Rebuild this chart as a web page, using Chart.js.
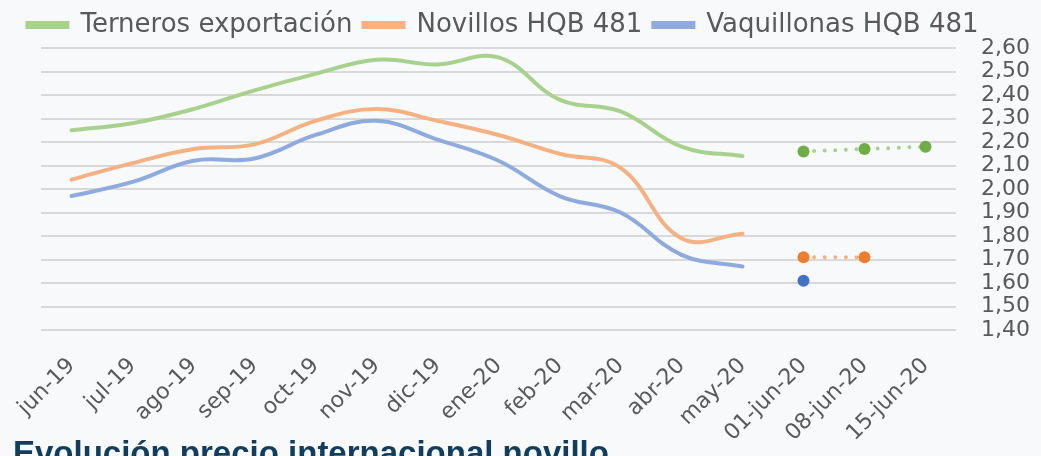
<!DOCTYPE html>
<html>
<head>
<meta charset="utf-8">
<script src="https://cdn.jsdelivr.net/npm/chart.js@4.4.0/dist/chart.umd.min.js"></script>
<style>
  html, body { margin: 0; padding: 0; background: #f8f9fb; overflow: hidden; }
  #wrap { position: relative; width: 1041px; height: 456px; }
  #titulo {
    position: absolute; left: 13px; top: 436px;
    font: bold 33px "Liberation Sans", Arial, sans-serif; line-height: 33px;
    color: #123d5c; white-space: nowrap;
  }
</style>
</head>
<body>
<div id="wrap">
  <canvas id="myChart" width="1041" height="456"></canvas>
  <div id="titulo">Evolución precio internacional novillo</div>
</div>
<script>
// categorias del eje x
const labels = ["jun-19", "jul-19", "ago-19", "sep-19", "oct-19", "nov-19", "dic-19",
  "ene-20", "feb-20", "mar-20", "abr-20", "may-20", "01-jun-20", "08-jun-20", "15-jun-20"];

// promedios mensuales
const terneros = [2.25, 2.28, 2.34, 2.42, 2.49, 2.55, 2.53, 2.56, 2.38, 2.33, 2.18, 2.14];
const novillos = [2.04, 2.11, 2.17, 2.19, 2.29, 2.34, 2.29, 2.23, 2.15, 2.09, 1.79, 1.81];
const vaquillonas = [1.97, 2.03, 2.12, 2.13, 2.23, 2.29, 2.21, 2.12, 1.97, 1.90, 1.72, 1.67];

// semanas de junio
const ternerosSem = [2.16, 2.17, 2.18];
const novillosSem = [1.71, 1.71];
const vaquillonasSem = [1.61];

// ticks del eje y
const yMin = 1.4;
const yMax = 2.6;
const yStep = 0.1;

const nMeses = terneros.length;

// rellena con null para ubicar cada serie en su tramo
function mensual(arr) {
  return labels.map((l, i) => (i < arr.length ? arr[i] : null));
}
function semanal(arr) {
  return labels.map((l, i) => {
    const k = i - nMeses;
    return k >= 0 && k < arr.length ? arr[k] : null;
  });
}

function lineaMes(label, values, color) {
  return {
    label: label,
    data: mensual(values),
    yAxisID: "y",
    borderColor: color,
    backgroundColor: color,
    borderWidth: 4,
    pointRadius: 0,
    tension: 0.4,
    borderCapStyle: "round",
  };
}

function lineaSem(label, values, color, dotColor) {
  return {
    label: label,
    data: semanal(values),
    yAxisID: "y",
    borderColor: color,
    backgroundColor: dotColor,
    borderWidth: 4,
    borderDash: [0, 10.6],
    borderCapStyle: "round",
    pointRadius: 6,
    pointBorderWidth: 0,
    pointBackgroundColor: dotColor,
    pointBorderColor: dotColor,
    tension: 0,
    semanal: true,
  };
}

const data = {
  labels: labels,
  datasets: [
    lineaMes("Terneros exportación", terneros, "#a9d18e"),
    lineaMes("Novillos HQB 481", novillos, "#f4b183"),
    lineaMes("Vaquillonas HQB 481", vaquillonas, "#8faadc"),
    lineaSem("Terneros sem", ternerosSem, "#a9d18e", "#70ad47"),
    lineaSem("Novillos sem", novillosSem, "#f4b183", "#ed7d31"),
    lineaSem("Vaquillonas sem", vaquillonasSem, "#8faadc", "#4472c4"),
  ],
};

const fuente = "'DejaVu Sans', sans-serif";

// corre la leyenda un poco a la izquierda, como en el original
const leyendaIzq = {
  id: "leyendaIzq",
  afterLayout(chart) {
    chart.legend.right -= 35;
  },
};

const config = {
  type: "line",
  data,
  plugins: [leyendaIzq],
  options: {
    responsive: false,
    animation: false,
    layout: { padding: { top: 1 } },
    plugins: {
      legend: {
        position: "top",
        labels: {
          color: "#595959",
          font: { family: fuente, size: 26 },
          boxWidth: 40,
          boxHeight: 4,
          padding: 11,
          filter: (item, d) => !d.datasets[item.datasetIndex].semanal,
        },
      },
      tooltip: { enabled: false },
    },
    scales: {
      x: {
        offset: true,
        grid: { display: false },
        border: { display: false },
        ticks: {
          color: "#595959",
          font: { family: fuente, size: 22 },
          minRotation: 45,
          maxRotation: 45,
          autoSkip: false,
          padding: 15,
        },
        afterFit: (scale) => { scale.height = 126; },
      },
      // margen izquierdo vacio
      yl: {
        position: "left",
        grid: { display: false },
        border: { display: false },
        ticks: { display: false },
        afterFit: (scale) => { scale.width = 41; },
      },
      y: {
        position: "right",
        min: yMin,
        max: yMax,
        grid: { color: "#d9d9d9", lineWidth: 2, drawTicks: false },
        border: { display: false },
        ticks: {
          stepSize: yStep,
          autoSkip: false,
          color: "#595959",
          font: { family: fuente, size: 22 },
          padding: 25,
          callback: (v) => v.toFixed(2).replace(".", ","),
        },
        afterFit: (scale) => { scale.width = 85; },
      },
    },
  },
};

const myChart = new Chart(document.getElementById("myChart"), config);
</script>
</body>
</html>
